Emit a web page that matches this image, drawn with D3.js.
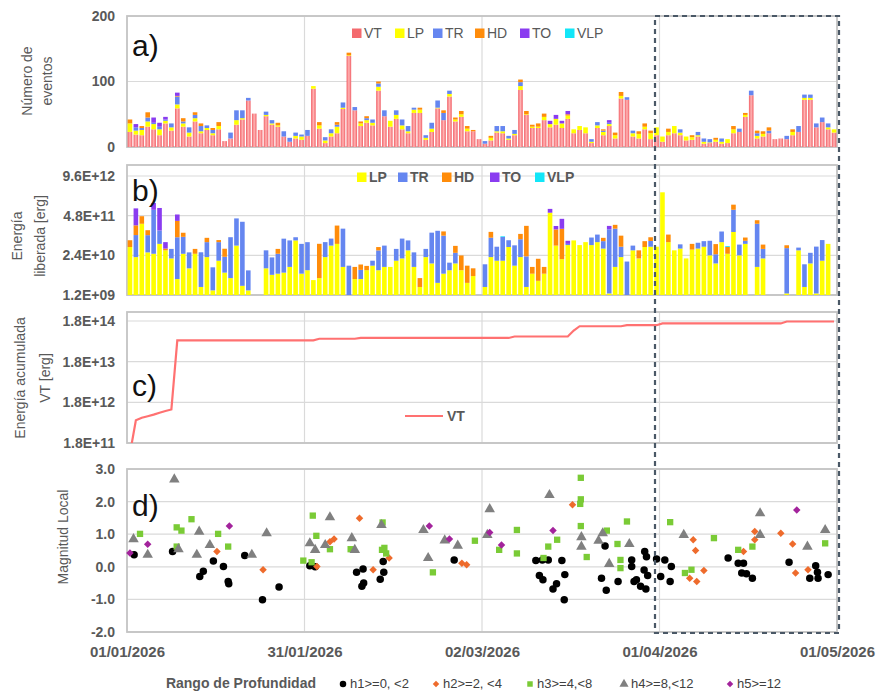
<!DOCTYPE html>
<html>
<head>
<meta charset="utf-8">
<script src="https://d3js.org/d3.v7.min.js"></script>
<style>
body { margin: 0; background: #fff; }
text { font-family: "Liberation Sans", Arial, sans-serif; }
</style>
</head>
<body>
<svg id="chart" width="877" height="693"></svg>
<script>
// days since 01/01/2026, one bar per day
const N_DAYS = 120;
const dateTicks = [0, 30, 60, 90, 120];
const dateLabels = ['01/01/2026', '31/01/2026', '02/03/2026', '01/04/2026', '01/05/2026'];

// a) number of events per day
const countTypes = ['VT', 'LP', 'TR', 'HD', 'TO', 'VLP'];
const countVT = [
    23, 19, 18, 31, 27, 18, 36, 25, 59, 31,
    16, 39, 21, 26, 18, 27, 9, 13, 34, 42,
    71, 51, 26, 47, 34, 31, 16, 8, 13, 11,
    17, 89, 28, 6, 16, 21, 58, 139, 56, 32,
    37, 33, 86, 47, 31, 43, 27, 21, 52, 52,
    11, 23, 59, 41, 77, 39, 46, 24, 24, 12,
    5, 10, 22, 21, 11, 18, 87, 49, 29, 29,
    41, 30, 34, 29, 43, 21, 26, 21, 6, 29,
    18, 32, 13, 74, 72, 16, 13, 27, 12, 18,
    8, 18, 21, 18, 10, 11, 16, 5, 6, 8,
    5, 6, 21, 23, 46, 79, 13, 16, 21, 12,
    13, 12, 18, 23, 72, 72, 30, 38, 27, 22];
const countLP = [
    13, 6, 8, 8, 8, 9, 4, 5, 6, 5,
    6, 5, 3, 3, 3, 5, 0, 0, 7, 2,
    0, 0, 0, 2, 2, 2, 0, 0, 4, 5,
    0, 4, 5, 4, 5, 10, 2, 1, 0, 4,
    4, 4, 6, 0, 9, 6, 6, 3, 5, 5,
    3, 5, 1, 0, 4, 3, 4, 4, 0, 0,
    0, 4, 2, 3, 2, 2, 6, 1, 2, 2,
    5, 5, 9, 7, 5, 6, 6, 9, 2, 4,
    5, 3, 5, 4, 0, 5, 7, 4, 9, 12,
    8, 5, 11, 4, 6, 4, 2, 3, 1, 3,
    3, 6, 6, 0, 3, 0, 4, 4, 0, 0,
    0, 0, 5, 0, 3, 3, 0, 0, 3, 5];
const countTR = [
    0, 5, 3, 6, 2, 4, 2, 6, 12, 3,
    8, 5, 8, 4, 5, 0, 0, 9, 15, 12,
    4, 0, 0, 5, 5, 0, 8, 6, 5, 3,
    9, 0, 0, 5, 6, 3, 8, 0, 5, 0,
    3, 5, 5, 9, 0, 7, 9, 8, 3, 0,
    4, 9, 11, 11, 5, 0, 0, 0, 0, 0,
    4, 0, 8, 8, 4, 6, 6, 0, 0, 0,
    0, 0, 0, 0, 0, 0, 0, 0, 4, 5,
    2, 2, 0, 0, 4, 4, 0, 0, 0, 0,
    0, 0, 0, 5, 0, 0, 5, 5, 5, 0,
    5, 0, 0, 5, 0, 7, 4, 0, 4, 0,
    0, 5, 0, 9, 5, 5, 6, 7, 6, 0];
const countHD = [
    6, 0, 3, 8, 0, 0, 0, 0, 1, 5,
    0, 4, 4, 0, 3, 6, 0, 0, 0, 0,
    0, 0, 0, 0, 0, 4, 0, 0, 0, 0,
    0, 0, 5, 0, 0, 4, 0, 4, 0, 3,
    3, 0, 3, 0, 0, 0, 0, 0, 0, 3,
    0, 0, 0, 4, 0, 3, 5, 4, 2, 0,
    0, 3, 0, 0, 0, 0, 4, 5, 3, 5,
    5, 0, 0, 0, 2, 0, 0, 0, 0, 0,
    2, 0, 4, 6, 0, 0, 4, 5, 4, 0,
    0, 5, 0, 0, 0, 3, 0, 0, 0, 3,
    0, 0, 5, 0, 3, 0, 4, 4, 5, 0,
    0, 0, 4, 0, 0, 0, 0, 0, 0, 0];
const countTO = [
    0, 5, 0, 0, 8, 6, 4, 0, 5, 0,
    0, 0, 0, 0, 0, 0, 0, 0, 0, 0,
    0, 0, 0, 0, 0, 0, 0, 0, 0, 0,
    0, 0, 0, 0, 0, 0, 0, 0, 0, 0,
    0, 0, 0, 0, 0, 0, 0, 0, 0, 0,
    0, 0, 0, 0, 0, 0, 0, 0, 0, 0,
    0, 0, 0, 0, 0, 0, 0, 0, 0, 0,
    0, 5, 6, 4, 5, 0, 0, 0, 0, 0,
    0, 4, 0, 0, 0, 0, 0, 0, 0, 0,
    0, 0, 0, 0, 0, 0, 0, 0, 0, 0,
    0, 0, 0, 0, 0, 0, 0, 0, 0, 0,
    0, 0, 0, 0, 0, 0, 0, 0, 0, 0];
const countVLP = [
    0, 0, 0, 0, 0, 0, 0, 0, 0, 0,
    0, 0, 0, 0, 0, 0, 0, 0, 0, 0,
    0, 0, 0, 0, 0, 0, 0, 0, 0, 0,
    0, 0, 0, 0, 0, 0, 0, 0, 0, 0,
    0, 0, 0, 0, 0, 0, 0, 0, 0, 0,
    0, 0, 0, 0, 0, 0, 0, 0, 0, 0,
    0, 0, 0, 0, 0, 0, 0, 0, 0, 0,
    0, 0, 0, 0, 0, 0, 0, 0, 0, 0,
    0, 0, 0, 0, 0, 0, 0, 0, 0, 0,
    0, 0, 0, 0, 0, 0, 0, 0, 0, 0,
    0, 0, 0, 0, 0, 0, 0, 0, 0, 0,
    0, 0, 0, 0, 0, 0, 0, 0, 0, 0];
const countTicks = [200, 100, 0];
const countTickLabels = ['200', '100', '0'];

// b) released energy per day [erg]
const energyTypes = ['LP', 'TR', 'HD', 'TO', 'VLP'];
const energyLP = [
    4.5e10, 2.1e10, 2.6e11, 3e10, 2.7e10, 5.7e10, 3.5e10, 1.9e10, 4e9, 2.7e10,
    9e9, 2.7e10, 2.2e9, 2.1e10, 1.7e9, 1.6e10, 6.5e9, 4.3e9, 5e10, 2.4e9,
    1.7e9, 0, 0, 9e9, 5.5e9, 6e9, 6.5e9, 1e10, 7.4e10, 6e9,
    7.8e9, 3.7e9, 4.3e9, 2.1e10, 5e10, 5.7e10, 1e10, 0, 4e9, 4e9,
    7.8e9, 1.1e10, 7.8e9, 1e10, 1e10, 1.6e10, 1.9e10, 3.5e10, 1e10, 2.2e9,
    2.1e10, 1.3e10, 3e9, 6e9, 7.8e9, 1.3e10, 7.8e9, 3e9, 5e9, 0,
    2.2e9, 2.1e10, 1.6e10, 1.6e10, 4.5e10, 1.1e10, 2.1e10, 2.2e9, 6e9, 3.5e9,
    6e9, 6e11, 5e10, 1.8e10, 5.2e10, 7.4e10, 5.2e10, 6.5e10, 5.2e10, 6.5e10,
    4e10, 1.35e9, 1e10, 2.1e10, 0, 3.5e10, 1.9e10, 4.5e10, 4.6e10, 4.6e10,
    2.8e12, 6.5e10, 3.5e10, 4e10, 1.9e10, 3.7e10, 4e10, 4.6e10, 2.4e10, 1.3e10,
    6.5e10, 2.7e10, 1.4e11, 2.4e10, 5.7e10, 0, 1e10, 1.9e10, 0, 0,
    0, 1.35e9, 0, 3.5e10, 2.2e9, 1.3e10, 1.35e9, 1.6e10, 5.7e10, 0];
const energyTR = [
    0, 9e10, 0, 8e10, 7.2e11, 1e11, 0, 2e10, 9e10, 7e10,
    2.1e10, 0, 2.8e10, 4.4e10, 8e9, 4.9e10, 1.5e10, 9e10, 3.4e11, 3e11,
    6e9, 0, 0, 2.6e10, 1.5e10, 2.1e10, 7.8e10, 6.4e10, 2e10, 5.1e10,
    5.7e10, 0, 0, 4.4e10, 3.5e10, 0, 1.7e11, 1.1e10, 0, 4e9,
    0, 5e9, 2.7e10, 4e10, 0, 2.3e10, 6.6e10, 3.9e10, 2e10, 0,
    1.8e10, 1.2e11, 1.5e11, 1e11, 6e9, 1.6e10, 0, 0, 0, 0,
    1e10, 7e10, 3e10, 8e10, 3e10, 4e10, 6e10, 2e10, 0, 0,
    0, 0, 0, 0, 5e9, 0, 0, 0, 4e10, 5e10,
    3e10, 1.7e11, 1.7e11, 2.5e10, 1.5e10, 1.5e10, 0, 0, 2.5e10, 0,
    0, 0, 0, 1.5e10, 0, 0, 2.2e10, 2.4e10, 4.8e10, 1.3e10,
    8e10, 0, 6.1e11, 3e10, 1.5e10, 0, 2.5e11, 2e10, 0, 0,
    0, 4e10, 0, 8e9, 1e10, 1.6e10, 4.5e10, 6e10, 0, 0];
const energyHD = [
    3e10, 1.2e11, 2e11, 5e10, 0, 0, 5e9, 0, 2.3e11, 3.5e10,
    0, 1.2e10, 0, 2.5e10, 0, 1.1e10, 1.8e10, 0, 0, 0,
    0, 0, 0, 0, 0, 1.2e10, 0, 0, 0, 0,
    0, 0, 5.3e10, 0, 0, 1.7e11, 0, 0, 6e9, 4e9,
    3e9, 0, 1e10, 0, 0, 0, 0, 0, 0, 2.1e9,
    0, 0, 0, 4e10, 0, 2e10, 1.6e10, 8e9, 4e9, 0,
    0, 5e10, 0, 0, 0, 0, 4e10, 2e11, 4e9, 1.5e10,
    4e9, 0, 1.2e11, 1.6e11, 0, 0, 0, 0, 0, 0,
    2e10, 0, 6e10, 6e10, 0, 0, 1.6e10, 2.5e10, 2.3e10, 0,
    0, 5e10, 0, 0, 0, 2e10, 0, 0, 0, 3e10,
    0, 1.8e10, 3.5e11, 0, 2e10, 0, 8e10, 1.5e10, 0, 0,
    0, 1e10, 0, 0, 0, 0, 0, 0, 0, 0];
const energyTO = [
    0, 6e11, 0, 0, 5e11, 7e11, 2.5e10, 0, 2e11, 0,
    0, 0, 0, 0, 0, 0, 0, 0, 0, 0,
    0, 0, 0, 0, 0, 0, 0, 0, 0, 0,
    0, 0, 0, 0, 0, 0, 0, 0, 0, 0,
    0, 0, 0, 0, 0, 0, 0, 0, 0, 0,
    0, 0, 0, 0, 0, 0, 0, 0, 0, 0,
    0, 0, 0, 0, 0, 0, 0, 0, 0, 0,
    0, 2e11, 5e10, 2e11, 1.5e10, 0, 0, 0, 0, 0,
    0, 5e10, 0, 0, 0, 0, 0, 0, 0, 0,
    0, 0, 0, 0, 0, 0, 0, 0, 0, 0,
    0, 0, 0, 0, 0, 0, 0, 0, 0, 0,
    0, 0, 0, 0, 0, 0, 0, 0, 0, 0];
const energyVLP = [
    0, 0, 0, 0, 0, 0, 0, 0, 0, 0,
    0, 0, 0, 0, 0, 0, 0, 0, 0, 0,
    0, 0, 0, 0, 0, 0, 0, 0, 0, 0,
    0, 0, 0, 0, 0, 0, 0, 0, 0, 0,
    0, 0, 0, 0, 0, 0, 0, 0, 0, 0,
    0, 0, 0, 0, 0, 0, 0, 0, 0, 0,
    0, 0, 0, 5e9, 0, 0, 0, 0, 0, 0,
    0, 0, 0, 0, 0, 0, 0, 0, 0, 0,
    0, 0, 0, 0, 0, 0, 0, 0, 0, 0,
    0, 0, 0, 0, 0, 0, 0, 0, 0, 0,
    0, 3e9, 0, 0, 0, 0, 0, 0, 0, 0,
    0, 0, 0, 0, 0, 0, 0, 0, 0, 0];
const energyTicks = [9.6e12, 4.8e11, 2.4e10, 1.2e9];
const energyTickLabels = ['9.6E+12', '4.8E+11', '2.4E+10', '1.2E+09'];

// c) accumulated VT energy [erg]
const cumulativeVT = [
    1.0e11, 6.5e11, 7.5e11, 8.2e11, 9.0e11, 1.0e12, 1.1e12, 1.2e12, 6.0e13, 6.0e13,
    6.0e13, 6.0e13, 6.0e13, 6.0e13, 6.0e13, 6.0e13, 6.0e13, 6.0e13, 6.0e13, 6.0e13,
    6.0e13, 6.0e13, 6.0e13, 6.0e13, 6.0e13, 6.0e13, 6.0e13, 6.0e13, 6.0e13, 6.0e13,
    6.0e13, 6.0e13, 6.6e13, 6.6e13, 6.6e13, 6.6e13, 6.6e13, 6.6e13, 6.6e13, 6.9e13,
    6.9e13, 6.9e13, 6.9e13, 6.9e13, 6.9e13, 6.9e13, 6.9e13, 6.9e13, 6.9e13, 6.9e13,
    6.9e13, 6.9e13, 6.9e13, 6.9e13, 6.9e13, 6.9e13, 6.9e13, 6.9e13, 6.9e13, 6.9e13,
    6.9e13, 6.9e13, 6.9e13, 6.9e13, 6.9e13, 7.5e13, 7.5e13, 7.5e13, 7.5e13, 7.5e13,
    7.5e13, 7.5e13, 7.5e13, 7.5e13, 7.5e13, 1.05e14, 1.34e14, 1.34e14, 1.34e14, 1.34e14,
    1.34e14, 1.34e14, 1.34e14, 1.34e14, 1.42e14, 1.42e14, 1.42e14, 1.42e14, 1.42e14, 1.42e14,
    1.57e14, 1.57e14, 1.57e14, 1.57e14, 1.57e14, 1.57e14, 1.57e14, 1.57e14, 1.57e14, 1.57e14,
    1.57e14, 1.57e14, 1.57e14, 1.57e14, 1.57e14, 1.57e14, 1.57e14, 1.57e14, 1.57e14, 1.57e14,
    1.57e14, 1.75e14, 1.75e14, 1.75e14, 1.75e14, 1.75e14, 1.75e14, 1.75e14, 1.75e14, 1.75e14];
const cumTicks = [1.8e14, 1.8e13, 1.8e12, 1.8e11];
const cumTickLabels = ['1.8E+14', '1.8E+13', '1.8E+12', '1.8E+11'];

// d) local magnitude, [day, ML] per depth range
const depthNames = ['h1>=0, <2', 'h2>=2, <4', 'h3>=4,<8', 'h4>=8,<12', 'h5>=12'];
const magH1 = [[1.2, 0.37], [7.7, 0.47], [12.3, -0.3], [12.9, -0.14], [14.6, 0.18], [16.3, 0.01], [17.1, -0.45],
    [17.2, -0.52], [19.9, 0.35], [22.9, -1.01], [25.7, -0.62], [30.9, 0.03], [31.8, 0], [38.8, -0.17], [39.9, -0.07],
    [39.7, -0.6], [40, -0.5], [42.8, -0.38], [43.3, 0.16], [43.4, -0.17], [55.3, 0.21], [69.1, 0.19], [70.2, 0.21],
    [71.2, 0.21], [73.5, 0.19], [69.7, -0.27], [70.3, -0.4], [72.6, -0.52], [72, -0.68], [74, -0.24], [73.9, -1.01],
    [80.2, -0.35], [81, -0.72], [80.8, 0.64], [83, -0.45], [85.3, 0.21], [85.3, 0.01], [85.7, -0.45], [86.1, -0.4],
    [86.8, -0.6], [87.7, -0.68], [87.5, 0.47], [87.8, 0.31], [87.4, -0.1], [88, -0.27], [89.5, 0.24], [90.9, 0.21],
    [92, 0.01], [90.2, -0.3], [91.8, -0.45], [101.6, 0.27], [103.3, 0.11], [104.2, 0.11], [103.9, -0.19],
    [104.7, -0.21], [105.7, -0.35], [111.9, 0.14], [116.4, 0.03], [115.4, -0.35], [116.8, -0.35], [116.7, -0.17],
    [118.5, -0.24]];
const magH2 = [[15.2, 0.47], [23, -0.09], [32.1, 0.01], [34.3, 0.77], [35, 0.85], [39.3, 1.49], [41.6, -0.09],
    [44.3, 0.27], [56.6, 0.11], [57.4, 0.06], [75.3, 1.9], [95.7, 0.83], [96.1, 0.5], [95.1, -0.35], [96.3, -0.45],
    [97.5, -0.11], [104.2, 0.47], [106.1, 1.08], [106.1, 0.83], [110.5, 1.03], [112.5, 0.7], [113, -0.19],
    [115.1, -0.09]];
const magH3 = [[2.2, 1.01], [8.4, 1.21], [9.2, 1.11], [10.9, 1.46], [8.4, 0.62], [15.4, 1.01], [17.1, 0.62],
    [29.8, 0.19], [31.4, 1.57], [31.2, 0.14], [32, 0.95], [34.3, 0.54], [37.8, 0.54], [43.2, 1.36], [43.1, 0.52],
    [43.5, 0.58], [43.8, 0.41], [51.7, -0.17], [58.8, 0.8], [62.9, 0.52], [65.9, 1.13], [65.9, 0.41], [70.4, 0.27],
    [71.2, 0.62], [72.7, 0.83], [76.7, 2.73], [76.7, 2.07], [76.6, 1.93], [76.7, 1.25], [77.7, 0.3], [81.1, 1.11],
    [82.9, 0.7], [83.4, 0.21], [83.4, -0.04], [84.5, 1.39], [91.8, 1.37], [94.3, -0.19], [95.4, -0.09], [99.2, 0.88],
    [103.3, 0.52], [105.7, 0.62], [118, 0.72]];
const magH4 = [[1.1, 0.85], [3.5, 0.37], [8, 2.68], [8.7, 0.54], [12.2, 1.08], [11.8, 0.37], [14, 0.67], [21.1, 0.37],
    [23.6, 1.03], [30.9, 0.72], [31.8, 0.52], [34.3, 1.52], [33.5, 0.67], [38, 0.88], [38.5, 0.52], [43, 1.28],
    [50.1, 1.13], [50.9, 0.27], [53.7, 0.81], [55.9, 0.65], [60.9, 0.98], [61.3, 1.77], [71.4, 2.2], [76.8, 0.91],
    [76.8, 0.62], [79.7, 0.8], [80.4, 1.03], [81.5, 0.09], [84.9, 0.7], [94.1, 0.98], [107, 1.64], [107, 0.98],
    [115, 0.62], [118, 1.13]];
const magH5 = [[0.5, 0.42], [3.5, 0.69], [17.3, 1.25], [51.1, 1.25], [54.5, 0.85], [61.3, 1.05], [63.3, 0.67],
    [72, 1.11], [113.2, 1.74]];
const magTicks = [3, 2, 1, 0, -1, -2];
const magTickLabels = ['3.0', '2.0', '1.0', '0.0', '-1.0', '-2.0'];

const LEFT = 127;
const RIGHT = 837;
const BAR_W = 4.6;
const COLOR = {
    VT: '#f46a6e', LP: '#ffff00', TR: '#6586f0', HD: '#ff8c0a', TO: '#8a3cf0', VLP: '#12e6f8',
    grid: '#dadada', frame: '#c4c4c4', tick: '#595959'
};
// Excel style markers; diamonds are squares turned by 45 degrees
const DEPTH_STYLE = [
    { type: d3.symbolCircle, size: 44, rot: 0, color: '#000000' },
    { type: d3.symbolSquare, size: 28, rot: 45, color: '#ee6b2c' },
    { type: d3.symbolSquare, size: 40, rot: 0, color: '#7acb36' },
    { type: d3.symbolTriangle, size: 48, rot: 0, color: '#808080' },
    { type: d3.symbolSquare, size: 28, rot: 45, color: '#a3239c' }
];

const svg = d3.select('#chart');
svg.append('rect').attr('width', 877).attr('height', 693).attr('fill', '#fff');

const defs = svg.append('defs');
const grad = defs.append('linearGradient').attr('id', 'vtGrad');
grad.append('stop').attr('offset', '0%').attr('stop-color', '#f25f66');
grad.append('stop').attr('offset', '50%').attr('stop-color', '#ffb4b4');
grad.append('stop').attr('offset', '100%').attr('stop-color', '#f25f66');

const x = d3.scaleLinear().domain([0, N_DAYS]).range([LEFT, RIGHT]);
const pitch = x(1) - x(0);

const ya = d3.scaleLinear().domain([0, 200]).range([147, 16]);
const yb = d3.scaleLog().domain([1.2e9, 2.2e13]).range([295, 165]).clamp(true);
const yc = d3.scaleLog().domain([1.8e11, 3.0e14]).range([443, 312]);
const yd = d3.scaleLinear().domain([-2, 3]).range([632, 469]);

// grid, frame and left tick labels for one panel
function drawFrame(y, ticks, labels) {
    const [bottom, top] = y.range();
    const g = svg.append('g');
    g.selectAll('line.h').data(ticks).join('line')
        .attr('x1', LEFT).attr('x2', RIGHT)
        .attr('y1', d => y(d)).attr('y2', d => y(d))
        .attr('stroke', COLOR.grid).attr('stroke-width', 1.2);
    g.selectAll('line.v').data(dateTicks.slice(1, -1)).join('line')
        .attr('x1', d => x(d)).attr('x2', d => x(d))
        .attr('y1', top).attr('y2', bottom)
        .attr('stroke', COLOR.grid).attr('stroke-width', 1.2);
    g.append('rect')
        .attr('x', LEFT).attr('y', top)
        .attr('width', RIGHT - LEFT).attr('height', bottom - top)
        .attr('fill', 'none').attr('stroke', COLOR.frame).attr('stroke-width', 1.8);

    const axis = svg.append('g')
        .attr('transform', `translate(${LEFT},0)`)
        .call(d3.axisLeft(y).tickValues(ticks).tickFormat((d, i) => labels[i]).tickSize(0).tickPadding(12));
    axis.select('.domain').remove();
    axis.selectAll('text')
        .attr('fill', COLOR.tick).attr('font-size', 14).attr('font-weight', 'bold')
        .attr('font-family', '"Liberation Sans", Arial, sans-serif');
}

function yTitle(lines, xs, cy) {
    lines.forEach((t, i) => {
        svg.append('text')
            .attr('transform', `translate(${xs[i]},${cy}) rotate(-90)`)
            .attr('text-anchor', 'middle').attr('dominant-baseline', 'central')
            .attr('font-size', 14).attr('fill', COLOR.tick)
            .text(t);
    });
}

function panelLabel(t, baseline) {
    svg.append('text').attr('x', 132).attr('y', baseline)
        .attr('font-size', 30).attr('fill', '#111').text(t);
}

function legend(keys, xs, cy, bold) {
    const g = svg.append('g');
    keys.forEach((k, i) => {
        g.append('rect').attr('x', xs[i]).attr('y', cy - 4.5).attr('width', 9.5).attr('height', 9.5)
            .attr('fill', COLOR[k]);
        g.append('text').attr('x', xs[i] + 12).attr('y', cy).attr('dominant-baseline', 'central')
            .attr('font-size', 14).attr('font-weight', bold ? 'bold' : 'normal')
            .attr('fill', COLOR.tick).text(k);
    });
}

function marker(sel, st, scale) {
    sel.attr('d', d3.symbol().type(st.type).size(st.size * scale))
        .attr('fill', st.color);
}

// ---------- a) ----------
drawFrame(ya, countTicks, countTickLabels);
const rowsA = d3.range(N_DAYS).map(i => ({
    VT: countVT[i], LP: countLP[i], TR: countTR[i], HD: countHD[i], TO: countTO[i], VLP: countVLP[i]
}));
const stackA = d3.stack().keys(countTypes)(rowsA);
svg.append('g').selectAll('g').data(stackA).join('g')
    .attr('fill', s => s.key === 'VT' ? 'url(#vtGrad)' : COLOR[s.key])
    .selectAll('rect')
    .data(s => s.map((d, i) => ({ y0: d[0], y1: d[1], i })).filter(d => d.y1 > d.y0))
    .join('rect')
    .attr('x', d => x(d.i) + (pitch - BAR_W) / 2)
    .attr('width', BAR_W)
    .attr('y', d => ya(d.y1))
    .attr('height', d => ya(d.y0) - ya(d.y1));
legend(countTypes, [352, 395, 433, 475, 520, 565], 33, false);
panelLabel('a)', 56);
yTitle(['Número de', 'eventos'], [27, 47], 81);

// ---------- b) ----------
drawFrame(yb, energyTicks, energyTickLabels);
const rowsB = d3.range(N_DAYS).map(i => ({
    LP: energyLP[i], TR: energyTR[i], HD: energyHD[i], TO: energyTO[i], VLP: energyVLP[i]
}));
const stackB = d3.stack().keys(energyTypes)(rowsB);
const eMin = yb.domain()[0];
svg.append('g').selectAll('g').data(stackB).join('g')
    .attr('fill', s => COLOR[s.key])
    .selectAll('rect')
    .data(s => s.map((d, i) => ({ y0: d[0], y1: d[1], i })).filter(d => d.y1 > d.y0))
    .join('rect')
    .attr('x', d => x(d.i) + (pitch - BAR_W) / 2)
    .attr('width', BAR_W)
    .attr('y', d => yb(Math.max(d.y1, eMin)))
    .attr('height', d => yb(Math.max(d.y0, eMin)) - yb(Math.max(d.y1, eMin)));
legend(energyTypes, [357, 398, 442, 490, 535], 177, true);
panelLabel('b)', 201);
yTitle(['Energía', 'liberada [erg]'], [17, 40], 236);

// ---------- c) ----------
drawFrame(yc, cumTicks, cumTickLabels);
defs.append('clipPath').attr('id', 'clipC').append('rect')
    .attr('x', LEFT).attr('y', 312).attr('width', RIGHT - LEFT).attr('height', 443 - 312);
svg.append('path')
    .datum(cumulativeVT)
    .attr('clip-path', 'url(#clipC)')
    .attr('fill', 'none').attr('stroke', '#ff7171').attr('stroke-width', 2.2)
    .attr('d', d3.line().x((d, i) => x(i + 0.5)).y(d => yc(d)));
svg.append('line').attr('x1', 405).attr('x2', 443).attr('y1', 416).attr('y2', 416)
    .attr('stroke', '#ff7171').attr('stroke-width', 2.2);
svg.append('text').attr('x', 447).attr('y', 416).attr('dominant-baseline', 'central')
    .attr('font-size', 14).attr('font-weight', 'bold').attr('fill', COLOR.tick).text('VT');
panelLabel('c)', 396);
yTitle(['Energía acumulada', 'VT [erg]'], [20, 45], 378);

// ---------- d) ----------
drawFrame(yd, magTicks, magTickLabels);
const magSeries = [magH1, magH2, magH3, magH4, magH5];
magSeries.forEach((pts, k) => {
    const st = DEPTH_STYLE[k];
    svg.append('g').selectAll('path').data(pts).join('path')
        .attr('transform', d => `translate(${x(d[0])},${yd(d[1])}) rotate(${st.rot})`)
        .call(marker, st, 1);
});
panelLabel('d)', 516);
yTitle(['Magnitud Local'], [63], 537);

// date axis under d)
const xAxis = svg.append('g')
    .attr('transform', 'translate(0,632)')
    .call(d3.axisBottom(x).tickValues(dateTicks).tickFormat((d, i) => dateLabels[i]).tickSize(0).tickPadding(14));
xAxis.select('.domain').remove();
xAxis.selectAll('text')
    .attr('fill', COLOR.tick).attr('font-size', 15).attr('font-weight', 'bold')
    .attr('font-family', '"Liberation Sans", Arial, sans-serif');

// depth legend
svg.append('text').attr('x', 316).attr('y', 683).attr('text-anchor', 'end')
    .attr('dominant-baseline', 'central')
    .attr('font-size', 14).attr('font-weight', 'bold').attr('fill', COLOR.tick)
    .text('Rango de Profundidad');
const legX = [343, 436, 530, 624, 730];
depthNames.forEach((name, k) => {
    const st = DEPTH_STYLE[k];
    svg.append('path')
        .attr('transform', `translate(${legX[k]},684) rotate(${st.rot})`)
        .call(marker, st, 0.75);
    svg.append('text').attr('x', legX[k] + 7).attr('y', 683).attr('dominant-baseline', 'central')
        .attr('font-size', 13).attr('fill', '#404040').text(name);
});

// dashed highlight box over the last month
svg.append('rect')
    .attr('x', 655).attr('y', 16).attr('width', 839 - 655).attr('height', 633 - 16)
    .attr('fill', 'none').attr('stroke', '#4a5866').attr('stroke-width', 2.2)
    .attr('stroke-dasharray', '5,4');
</script>
</body>
</html>
